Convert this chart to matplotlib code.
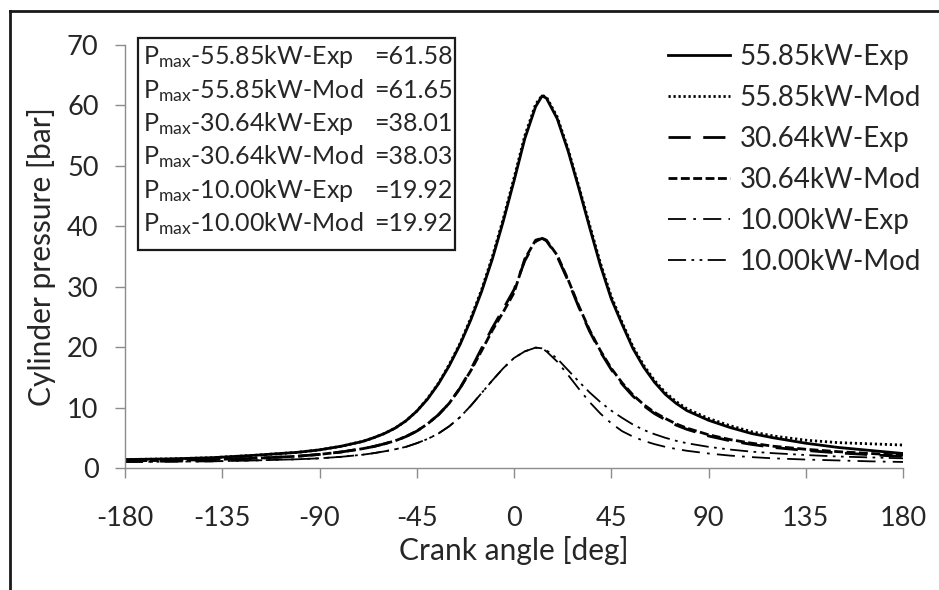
import matplotlib
matplotlib.use("Agg")
import matplotlib.pyplot as plt
from matplotlib.lines import Line2D
from matplotlib.patches import Rectangle

plt.rcParams['font.family'] = ['Lato', 'DejaVu Sans']
plt.rcParams['mathtext.fontset'] = 'custom'
plt.rcParams['mathtext.rm'] = 'Lato'
plt.rcParams['mathtext.it'] = 'Lato:italic'
plt.rcParams['axes.unicode_minus'] = False

# ---- data ----
angle = [-180, -160, -140, -120, -100, -90, -80, -70, -65, -60, -55, -50, -45, -40,
         -35, -30, -25, -20, -15, -10, -5, 0, 5, 10, 13, 15, 20, 25, 30, 35, 40, 45,
         50, 55, 60, 65, 70, 75, 80, 90, 100, 110, 120, 135, 150, 165, 180]

p55_exp = [1.4, 1.5, 1.7, 2.1, 2.6, 3.0, 3.6, 4.4, 5.0, 5.7, 6.6, 7.8, 9.4, 11.4,
           13.9, 16.9, 20.4, 24.5, 29.2, 34.6, 40.8, 47.5, 54.5, 59.8, 61.58, 61.2, 57.8, 52.5,
           46.3, 39.8, 33.5, 28.0, 23.8, 19.8, 16.7, 14.2, 12.2, 10.7, 9.5, 7.9, 6.7, 5.7,
           5.0, 4.1, 3.4, 2.9, 2.4]
p55_mod = [1.4, 1.5, 1.7, 2.1, 2.6, 3.0, 3.6, 4.4, 5.0, 5.7, 6.6, 7.8, 9.4, 11.5,
           14.0, 17.1, 20.6, 24.8, 29.5, 35.0, 41.2, 48.0, 55.0, 60.2, 61.65, 61.4, 58.1, 52.8,
           46.6, 40.2, 33.9, 28.4, 24.1, 20.1, 17.0, 14.5, 12.5, 11.0, 9.8, 8.2, 7.0, 6.0,
           5.3, 4.6, 4.2, 4.0, 3.8]
p30_exp = [1.2, 1.25, 1.4, 1.6, 1.95, 2.25, 2.65, 3.2, 3.55, 4.0, 4.5, 5.2, 6.1, 7.3,
           8.8, 10.7, 13.2, 16.3, 19.8, 23.2, 26.3, 29.5, 34.3, 37.5, 38.01, 37.6, 35.0, 31.0,
           26.6, 22.6, 19.2, 16.3, 13.9, 11.9, 10.3, 9.0, 8.0, 7.1, 6.4, 5.3, 4.5, 3.9,
           3.4, 2.9, 2.5, 2.2, 1.9]
p30_mod = [1.2, 1.25, 1.4, 1.6, 1.95, 2.25, 2.65, 3.2, 3.55, 4.0, 4.5, 5.2, 6.1, 7.3,
           8.8, 10.7, 13.2, 16.1, 19.4, 22.8, 25.8, 29.0, 34.6, 37.7, 38.03, 37.7, 35.2, 31.2,
           26.8, 22.8, 19.4, 16.5, 14.1, 12.1, 10.5, 9.2, 8.2, 7.3, 6.6, 5.5, 4.7, 4.1,
           3.6, 3.1, 2.7, 2.4, 2.1]
p10_exp = [1.0, 1.05, 1.1, 1.25, 1.45, 1.6, 1.85, 2.2, 2.45, 2.75, 3.1, 3.5, 4.1, 4.8,
           5.7, 6.9, 8.4, 10.3, 12.4, 14.5, 16.5, 18.2, 19.3, 19.92, 19.8, 19.3, 17.6, 15.4,
           13.1, 10.9, 9.0, 7.4, 6.1, 5.2, 4.5, 3.95, 3.5, 3.15, 2.85, 2.4, 2.05, 1.8,
           1.6, 1.4, 1.25, 1.1, 1.0]
p10_mod = [1.0, 1.05, 1.1, 1.25, 1.45, 1.6, 1.85, 2.2, 2.45, 2.75, 3.1, 3.5, 4.1, 4.8,
           5.7, 6.9, 8.4, 10.3, 12.4, 14.5, 16.5, 18.2, 19.3, 19.92, 19.8, 19.5, 18.1, 16.2,
           14.3, 12.5, 10.9, 9.5, 8.3, 7.2, 6.3, 5.6, 5.0, 4.5, 4.1, 3.5, 3.05, 2.7,
           2.45, 2.15, 1.9, 1.75, 1.6]

series_labels = ['55.85kW-Exp', '55.85kW-Mod', '30.64kW-Exp', '30.64kW-Mod',
                 '10.00kW-Exp', '10.00kW-Mod']
pmax_labels = [r'P$_{\mathrm{max}}$-55.85kW-Exp', r'P$_{\mathrm{max}}$-55.85kW-Mod',
               r'P$_{\mathrm{max}}$-30.64kW-Exp', r'P$_{\mathrm{max}}$-30.64kW-Mod',
               r'P$_{\mathrm{max}}$-10.00kW-Exp', r'P$_{\mathrm{max}}$-10.00kW-Mod']
pmax_values = ['=61.58', '=61.65', '=38.01', '=38.03', '=19.92', '=19.92']

xticks = [-180, -135, -90, -45, 0, 45, 90, 135, 180]
yticks = [0, 10, 20, 30, 40, 50, 60, 70]

# ---- figure ----
W, H = 939, 590
fig = plt.figure(figsize=(W / 100, H / 100), dpi=100)
ax = fig.add_axes([125 / W, 1 - 468 / H, (903 - 125) / W, (468 - 45) / H])

txt = '#262626'
styles = [
    dict(ls='-', lw=2.0),
    dict(ls=(0, (0.8, 1.0)), lw=2.0),
    dict(ls=(0, (8, 4.5)), lw=2.0),
    dict(ls=(0, (3.2, 1.25)), lw=2.0),
    dict(ls=(0, (10, 4, 1.5, 4)), lw=1.3),
    dict(ls=(0, (10, 3, 1.5, 3, 1.5, 3)), lw=1.3),
]
data = [p55_exp, p55_mod, p30_exp, p30_mod, p10_exp, p10_mod]
for d, st, lab in zip(data, styles, series_labels):
    ax.plot(angle, d, color='black', label=lab, **st)

ax.set_xlim(-180, 180)
ax.set_ylim(0, 70)
ax.set_xticks(xticks)
ax.set_yticks(yticks)
for s in ['top', 'right']:
    ax.spines[s].set_visible(False)
for s in ['left', 'bottom']:
    ax.spines[s].set_color('#8c8c8c')
    ax.spines[s].set_linewidth(1.0)
ax.tick_params(direction='out', length=7, width=1.0, color='#8c8c8c',
               labelsize=19.5, labelcolor=txt)
ax.tick_params(axis='y', pad=12)
ax.tick_params(axis='x', pad=20)
ax.set_xlabel('Crank angle [deg]', fontsize=21.5, color=txt, labelpad=4)
ax.set_ylabel('Cylinder pressure [bar]', fontsize=21.5, color=txt, labelpad=8)

leg = ax.legend(loc='upper left', bbox_to_anchor=(668 / W, 1 - 44 / H),
                bbox_transform=fig.transFigure, frameon=False, fontsize=20,
                handlelength=2.23, handletextpad=0.36, labelspacing=0.54,
                borderpad=0, borderaxespad=0)
for t in leg.get_texts():
    t.set_color(txt)

# Pmax annotation box
box = Rectangle((138 / W, 1 - 250 / H), (455 - 138) / W, (250 - 38) / H,
                transform=fig.transFigure, fill=False, edgecolor='#1a1a1a', lw=1.6)
fig.patches.append(box)
for i, (lab, val) in enumerate(zip(pmax_labels, pmax_values)):
    yc = 1 - (57 + 33.3 * i) / H
    fig.text(143 / W, yc, lab, fontsize=18, color=txt, ha='left', va='center')
    fig.text(453 / W, yc, val, fontsize=18, color=txt, ha='right', va='center')

# partial outer frame
fig.add_artist(Line2D([10 / W, 1], [1 - 11 / H, 1 - 11 / H], transform=fig.transFigure,
                      color='#1a1a1a', lw=2))
fig.add_artist(Line2D([10 / W, 10 / W], [0, 1 - 11 / H], transform=fig.transFigure,
                      color='#1a1a1a', lw=2))

fig.savefig('out.png', dpi=100)
